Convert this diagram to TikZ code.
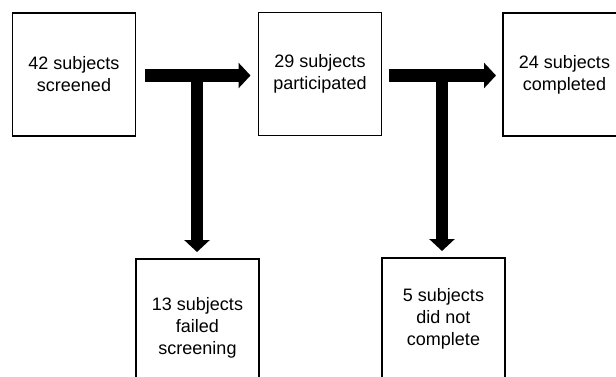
\documentclass[tikz,border=0pt]{standalone}
\usepackage{fontspec}
\setmainfont{Liberation Sans}
\usetikzlibrary{arrows.meta}
\begin{document}
\begin{tikzpicture}[x=1pt,y=-1pt,
  box/.style={draw=black, line width=1.4pt, fill=white, minimum width=123pt, inner sep=0pt, outer sep=0pt, align=center, font=\fontsize{18}{22}\selectfont},
  fat/.style={line width=12.5pt, -{Triangle[length=12pt,width=25pt]}},
  stem/.style={line width=12.5pt}]
\useasboundingbox (0,0) rectangle (616,377);
\clip (0,0) rectangle (616,377);
\node[box, minimum height=123pt] (b1) at (74,74.5) {42 subjects\\screened};
\node[box, minimum height=123pt] (b2) at (320,74) {29 subjects\\participated};
\node[box, minimum height=123pt] (b3) at (564.5,74.5) {24 subjects\\completed};
\node[box, minimum height=138pt] (b4) at (197.5,328) {13 subjects\\failed\\screening};
\node[box, minimum height=122pt] (b5) at (443.5,319) {5 subjects\\did not\\complete};
\coordinate (j1) at (197,75.5);
\coordinate (j2) at (442,75.5);
\draw[fat, shorten <=9pt, shorten >=8pt] (b1.east |- j1) -- (b2.west |- j1);
\draw[fat, shorten <=7pt, shorten >=7pt] (b2.east |- j2) -- (b3.west |- j2);
\draw[fat, shorten >=7pt] (j1) -- (j1 |- b4.north);
\draw[fat, shorten >=7pt] (j2) -- (j2 |- b5.north);
\end{tikzpicture}
\end{document}
